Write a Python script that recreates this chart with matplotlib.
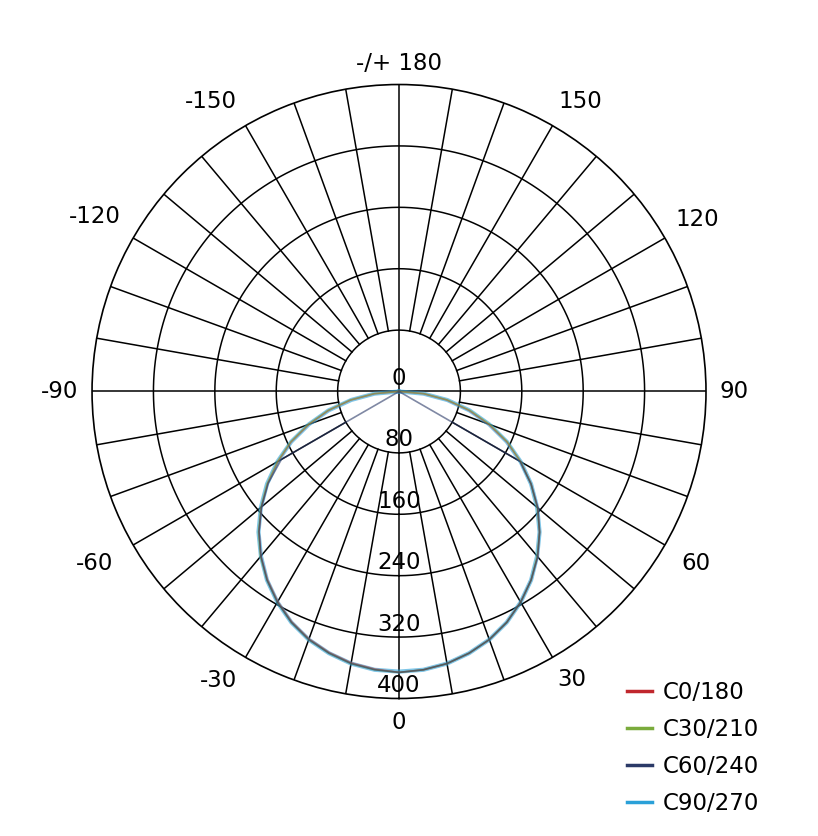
import numpy as np
import matplotlib
matplotlib.use("Agg")
import matplotlib.pyplot as plt

plt.rcParams["font.family"] = ["DejaVu Sans"]

# 角度 (0 = 向下), 单位 cd
angles = [-90, -85, -80, -75, -70, -65, -60, -55, -50, -45, -40, -35, -30, -25, -20, -15, -10, -5,
          0, 5, 10, 15, 20, 25, 30, 35, 40, 45, 50, 55, 60, 65, 70, 75, 80, 85, 90]

c0_180 = [0, 32, 64, 95, 125, 155, 182, 209, 234, 258, 280, 299, 316, 331, 343, 352, 359, 363,
          366, 364, 360, 353, 344, 332, 317, 300, 281, 259, 236, 210, 183, 155, 124, 94, 63, 32, 0]
c30_210 = [0, 33, 65, 96, 126, 156, 183, 210, 235, 259, 281, 300, 317, 332, 344, 353, 360, 364,
           366, 364, 360, 353, 344, 332, 317, 300, 280, 259, 235, 210, 183, 156, 126, 96, 64, 33, 0]
c60_240 = [0, 0, 0, 0, 0, 0, 177, 208, 234, 258, 280, 300, 317, 332, 344, 353, 360, 364,
           366, 364, 360, 353, 344, 332, 317, 300, 281, 259, 236, 210, 182, 0, 0, 0, 0, 0, 0]
c90_270 = [0, 32, 63, 95, 125, 155, 183, 210, 235, 259, 280, 300, 317, 332, 344, 353, 360, 364,
           365, 364, 360, 353, 344, 332, 317, 300, 280, 259, 235, 210, 183, 155, 125, 95, 64, 32, 0]

series_names = ["C0/180", "C30/210", "C60/240", "C90/270"]
series_colors = ["#c0272d", "#7aab3c", "#2b3a67", "#2aa0d8"]

ring_values = [80, 160, 240, 320, 400]
angle_labels = ["0", "30", "60", "90", "120", "150", "-/+ 180", "-150", "-120", "-90", "-60", "-30"]
label_angle = [0, 31, 60, 90, 120, 148, 180, -147, -120, -90, -60.5, -32]
label_radius = [431, 438, 447, 436, 448, 445, 428, 451, 457, 442, 456, 444]

fig = plt.figure(figsize=(8.18, 8.36), dpi=100)
ax = fig.add_axes([0.1125, 0.1645, 0.7506, 0.7344], projection="polar")
ax.set_theta_zero_location("S")
ax.set_theta_direction(1)
ax.set_ylim(0, 400)
ax.grid(False)
ax.set_xticks([])
ax.set_yticks([])
ax.spines["polar"].set_linewidth(1.2)

# 网格
tt = np.linspace(0, 2 * np.pi, 720)
for v in ring_values[:-1]:
    ax.plot(tt, np.full_like(tt, v), color="black", lw=1.1, zorder=1)
for a in range(0, 360, 10):
    if a % 90 == 0:
        ax.plot([np.radians(a), np.radians(a)], [0, 400], color="black", lw=1.1, zorder=1)
    else:
        ax.plot([np.radians(a), np.radians(a)], [80, 400], color="black", lw=1.1, zorder=1)

# 曲线
th = np.radians(angles)
ax.plot(th, c90_270, color=series_colors[3], lw=3.0, alpha=0.6, zorder=3)
ax.plot(th, c0_180, color=series_colors[0], lw=1.2, alpha=0.55, zorder=3)
ax.plot(th, c30_210, color=series_colors[1], lw=1.2, alpha=0.55, zorder=3)
ax.plot(th, c60_240, color=series_colors[2], lw=1.2, alpha=0.6, zorder=4)

# 角度标签
for a, lab, r in zip(label_angle, angle_labels, label_radius):
    ax.text(np.radians(a), r, lab, ha="center", va="center", fontsize=16.5, clip_on=False)

# 径向标签
for v in [0] + ring_values:
    ax.annotate(str(v), xy=(0, v), xytext=(0, 13), textcoords="offset pixels",
                ha="center", va="center", fontsize=16.5, zorder=5)

handles = [plt.Line2D([], [], color=c, lw=2.5) for c in series_colors]
fig.legend(handles, series_names, loc="upper left", bbox_to_anchor=(0.755, 0.196),
           frameon=False, fontsize=16.5, handlelength=1.1, handletextpad=0.45,
           labelspacing=0.6, borderaxespad=0)

plt.savefig("out.png", dpi=100)
